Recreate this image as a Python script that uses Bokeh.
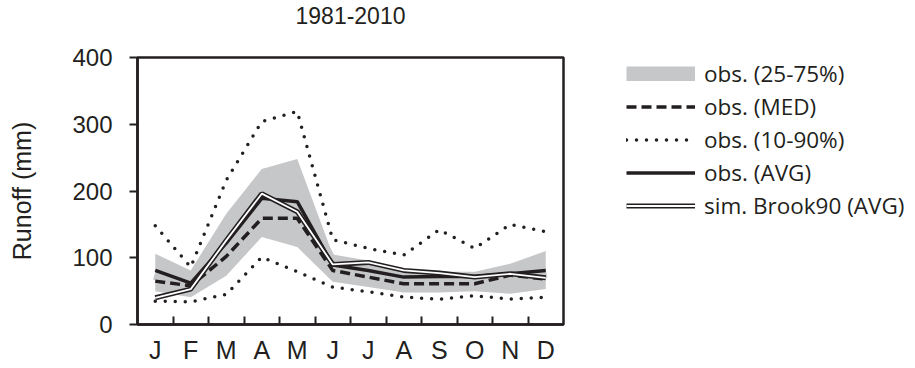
import numpy as np
from bokeh.plotting import figure
from bokeh.models import Range1d, LinearAxis, FixedTicker, Legend, LegendItem
from bokeh.embed import file_html
from bokeh.resources import INLINE

# ---- data ----
months = ["J", "F", "M", "A", "M", "J", "J", "A", "S", "O", "N", "D"]
obs_p25 = [50, 41, 73, 131, 116, 64, 56, 48, 48, 50, 46, 53]
obs_p75 = [106, 81, 166, 233, 248, 105, 96, 84, 79, 79, 91, 110]
obs_med = [65, 58, 102, 159, 159, 81, 71, 61, 61, 61, 74, 68]
obs_p10 = [35, 34, 45, 101, 79, 56, 49, 41, 38, 43, 38, 41]
obs_p90 = [148, 86, 216, 304, 319, 127, 114, 104, 142, 114, 150, 139]
obs_avg = [81, 62, 122, 189, 184, 89, 81, 71, 72, 72, 76, 81]
sim_avg = [40, 53, 126, 196, 169, 90, 93, 81, 77, 71, 76, 70]
y_ticks = [0, 100, 200, 300, 400]
title_text = "1981-2010"
y_label = "Runoff (mm)"

n = len(months)
x = list(range(1, n + 1))

INK = "#231f20"
BAND = "#c6c7c9"
FONT = "Liberation Sans"

p = figure(frame_width=426, frame_height=267, output_backend="svg",
           toolbar_location=None,
           x_range=Range1d(0.5, n + 0.5), y_range=Range1d(0, 400),
           min_border_left=137, min_border_right=0, min_border_top=56,
           min_border_bottom=45, title=title_text + "\n")

p.xgrid.visible = False
p.ygrid.visible = False
p.outline_line_color = INK
p.outline_line_width = 2.5
p.outline_line_alpha = 1.0
p.background_fill_color = "white"
p.border_fill_color = "white"

p.title.text_font = FONT
p.title.text_font_size = "23px"
p.title.text_font_style = "normal"
p.title.text_color = INK
p.title.align = "center"
p.title.text_line_height = 1.1
p.title.standoff = 0

# x axis with boundary ticks (inside), labels not drawn
xa = p.xaxis[0]
xa.ticker = FixedTicker(ticks=[i + 0.5 for i in x[:-1]])
xa.major_tick_in = 8
xa.major_tick_out = 0
xa.major_tick_line_width = 2
xa.major_tick_line_color = INK
xa.minor_tick_line_color = None
xa.axis_line_width = 2.5
xa.axis_line_color = INK
xa.major_label_text_font_size = "1px"
xa.major_label_text_color = None
xa.major_label_standoff = 0

# month label axis
lab = LinearAxis(ticker=FixedTicker(ticks=x),
                 major_label_overrides={i: m for i, m in zip(x, months)},
                 axis_line_color=None, major_tick_line_color=None,
                 minor_tick_line_color=None, major_tick_in=0, major_tick_out=0,
                 major_label_text_font=FONT, major_label_text_font_size="25px",
                 major_label_text_color=INK, major_label_standoff=11)
p.add_layout(lab, "below")

ya = p.yaxis[0]
ya.ticker = FixedTicker(ticks=y_ticks)
ya.major_tick_in = 0
ya.major_tick_out = 8
ya.major_tick_line_width = 2
ya.major_tick_line_color = INK
ya.minor_tick_line_color = None
ya.axis_line_width = 2.5
ya.axis_line_color = INK
ya.major_label_text_font = FONT
ya.major_label_text_font_size = "24px"
ya.major_label_text_color = INK
ya.major_label_standoff = 17
ya.axis_label = y_label
ya.axis_label_text_font = FONT
ya.axis_label_text_font_size = "25px"
ya.axis_label_text_font_style = "normal"
ya.axis_label_text_color = INK
ya.axis_label_standoff = 33

# legend swatch for the band: a wide line in the band colour along the band's
# middle, drawn underneath the band so only its legend key shows
band_mid = [(a + b) / 2 for a, b in zip(obs_p25, obs_p75)]
band_key = p.line(x, band_mid, line_color=BAND, line_width=15, line_cap="butt",
                  line_join="round")
band = p.varea(x=x, y1=obs_p25, y2=obs_p75, fill_color=BAND, fill_alpha=1.0)
r_p90 = p.line(x, obs_p90, line_color=INK, line_width=3.5, line_dash="0 10", line_cap="round")
r_p10 = p.line(x, obs_p10, line_color=INK, line_width=3.5, line_dash="0 10", line_cap="round")
r_med = p.line(x, obs_med, line_color=INK, line_width=3.5, line_dash="10 5")
r_avg = p.line(x, obs_avg, line_color=INK, line_width=3.5)
r_sim_o = p.line(x, sim_avg, line_color=INK, line_width=5)
r_sim_i = p.line(x, sim_avg, line_color="white", line_width=1.8)

legend = Legend(items=[
    LegendItem(label="obs. (25-75%)", renderers=[band_key]),
    LegendItem(label="obs. (MED)", renderers=[r_med]),
    LegendItem(label="obs. (10-90%)", renderers=[r_p90]),
    LegendItem(label="obs. (AVG)", renderers=[r_avg]),
    LegendItem(label="sim. Brook90 (AVG)", renderers=[r_sim_o, r_sim_i]),
], location=(63, 103), glyph_width=69, glyph_height=15, label_height=31,
    spacing=2, padding=0, margin=0, border_line_color=None,
    background_fill_alpha=0, label_text_font="Open Sans",
    label_text_font_size="22.5px", label_standoff=9, label_text_color=INK)
p.add_layout(legend, "right")

open("out.html", "w").write(file_html(p, INLINE))
